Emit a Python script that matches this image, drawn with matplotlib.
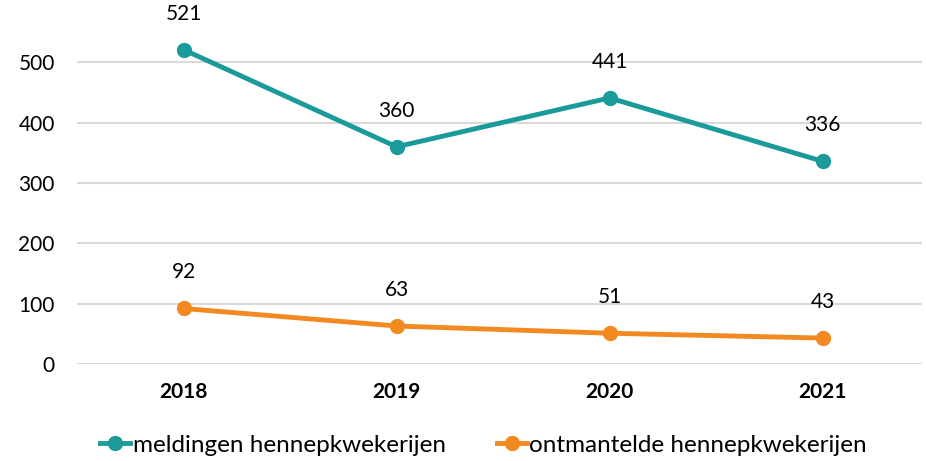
import matplotlib
matplotlib.use('Agg')
import matplotlib.pyplot as plt

years = ['2018', '2019', '2020', '2021']
meldingen = [521, 360, 441, 336]
ontmanteld = [92, 63, 51, 43]

plt.rcParams['font.family'] = ['Lato', 'DejaVu Sans']

fig = plt.figure(figsize=(9.26, 4.61), dpi=100)
ax = fig.add_axes([77 / 926, 1 - 364 / 461, (922 - 77) / 926, 362 / 461])

teal = '#1A9A9A'
orange = '#F28A21'
x = range(len(years))
ax.plot(x, meldingen, color=teal, lw=3.5, marker='o', ms=10, label='meldingen hennepkwekerijen')
ax.plot(x, ontmanteld, color=orange, lw=3.5, marker='o', ms=10, label='ontmantelde hennepkwekerijen')

for xi, v in zip(x, meldingen):
    ax.annotate(str(v), (xi, v), xytext=(0, 26), textcoords='offset points',
                ha='center', va='center', fontsize=15)
for xi, v in zip(x, ontmanteld):
    ax.annotate(str(v), (xi, v), xytext=(0, 26), textcoords='offset points',
                ha='center', va='center', fontsize=15)

ax.set_xlim(-0.5, 3.467)
ax.set_ylim(0, 600)
ax.set_yticks([0, 100, 200, 300, 400, 500])
ax.set_xticks(list(x))
ax.set_xticklabels(years, fontweight='bold')
ax.tick_params(axis='y', length=0, labelsize=15, pad=16)
ax.tick_params(axis='x', length=0, labelsize=15, pad=13)
ax.grid(axis='y', color='#D9D9D9', lw=1.5)
ax.set_axisbelow(True)
for s in ax.spines.values():
    s.set_visible(False)

fig.legend(loc='center', bbox_to_anchor=(0.522, 1 - 445 / 461), ncol=2, frameon=False,
           fontsize=17.5, handlelength=1.25, columnspacing=2.1, handletextpad=0.1)

fig.savefig('out.png', dpi=100)
